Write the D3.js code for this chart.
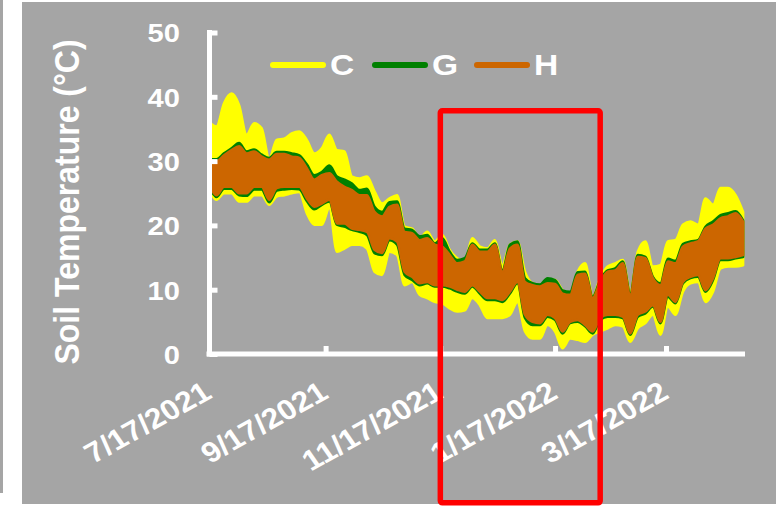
<!DOCTYPE html>
<html>
<head>
<meta charset="utf-8">
<script src="https://cdn.jsdelivr.net/npm/d3@7"></script>
<style>
  html, body { margin: 0; padding: 0; background: #ffffff; }
  svg { display: block; }
  text { font-family: "Liberation Sans", Arial, sans-serif; font-weight: bold; fill: #ffffff; }
</style>
</head>
<body>
<svg id="chart" width="776" height="510"></svg>
<script>
// Sampling dates (every 4 days)
const dates = [
  "2021-07-17","2021-07-21","2021-07-25","2021-07-29","2021-08-02","2021-08-06","2021-08-10","2021-08-14",
  "2021-08-18","2021-08-22","2021-08-26","2021-08-30","2021-09-03","2021-09-07","2021-09-11","2021-09-15",
  "2021-09-19","2021-09-23","2021-09-27","2021-10-01","2021-10-05","2021-10-09","2021-10-13","2021-10-17",
  "2021-10-21","2021-10-25","2021-10-29","2021-11-02","2021-11-06","2021-11-10","2021-11-14","2021-11-18",
  "2021-11-22","2021-11-26","2021-11-30","2021-12-04","2021-12-08","2021-12-12","2021-12-16","2021-12-20",
  "2021-12-24","2021-12-28","2022-01-01","2022-01-05","2022-01-09","2022-01-13","2022-01-17","2022-01-21",
  "2022-01-25","2022-01-29","2022-02-02","2022-02-06","2022-02-10","2022-02-14","2022-02-18","2022-02-22",
  "2022-02-26","2022-03-02","2022-03-06","2022-03-10","2022-03-14","2022-03-18","2022-03-22","2022-03-26",
  "2022-03-30","2022-04-03","2022-04-07","2022-04-11","2022-04-15","2022-04-19","2022-04-23","2022-04-27"
];

// Daily high / low soil temperature (°C) for each plot
const cHigh = [36.1,35.4,39.0,40.5,38.7,34.1,35.9,35.1,30.4,33.3,33.5,34.3,34.6,33.3,31.2,
  32.0,34.1,31.7,31.5,27.6,27.3,27.6,25.3,23.4,24.2,24.7,19.8,19.5,18.0,19.0,
  17.5,18.5,16.2,14.9,14.4,18.0,16.7,16.4,17.7,13.8,17.0,17.5,12.8,11.0,10.7,
  11.5,11.5,9.9,9.4,12.8,14.1,8.9,11.8,13.6,14.1,14.6,9.7,15.9,17.5,13.6,
  13.8,17.5,17.7,20.1,20.6,20.1,24.2,23.2,25.8,25.8,24.7,22.1];
const cLow = [25.8,24.0,25.0,25.0,23.7,23.7,24.7,24.7,23.2,24.5,24.7,25.0,25.2,21.9,20.1,
  20.1,22.7,15.9,16.4,17.0,17.0,16.4,12.8,12.3,15.9,15.4,10.7,11.2,9.2,8.7,
  8.1,7.9,7.1,6.6,6.8,8.7,7.6,5.6,5.6,5.6,6.1,8.1,3.5,2.4,2.4,
  4.5,3.5,0.9,2.4,2.2,1.9,3.0,3.5,4.0,4.5,4.3,1.9,4.0,4.8,6.1,
  3.0,7.4,6.1,9.7,11.0,11.2,8.1,9.7,13.3,13.6,13.6,13.8];

const gHigh = [30.3,30.3,31.2,32.0,32.8,31.5,31.8,31.0,30.5,31.4,31.4,31.2,30.9,29.5,27.8,
  28.3,29.3,27.6,27.1,26.5,25.5,25.7,22.9,22.1,23.6,23.7,19.5,19.3,18.3,18.5,
  17.2,18.0,15.9,14.6,14.9,17.2,16.2,16.2,17.2,13.0,17.0,17.5,11.8,11.0,10.8,
  11.8,11.5,9.9,9.7,12.7,12.8,8.9,11.5,13.0,13.3,14.4,9.4,15.4,15.1,12.0,
  11.0,14.8,14.5,17.1,17.5,17.7,19.8,20.6,21.6,21.9,22.2,20.8];
const gLow = [26.0,24.4,25.7,25.7,24.7,24.6,25.6,25.6,23.6,25.4,25.6,25.7,25.6,23.8,22.5,
  23.2,23.7,20.1,19.8,19.3,19.0,18.5,15.7,15.4,17.7,17.0,12.3,11.5,10.7,11.0,
  10.5,10.5,10.2,9.7,9.4,10.5,9.4,8.4,8.4,8.1,9.4,11.0,5.6,4.5,4.5,
  5.8,5.3,3.2,4.8,5.0,4.3,3.2,5.3,5.8,5.8,5.6,3.0,5.8,6.3,7.4,
  4.8,8.9,7.9,11.0,11.8,12.0,9.7,11.5,14.6,14.6,14.9,15.1];

const hHigh = [30.0,30.0,30.9,31.7,32.3,31.2,31.5,30.7,30.2,31.1,31.1,30.7,30.5,28.9,27.1,
  27.8,28.1,26.8,26.0,25.5,24.7,24.7,22.1,21.4,22.9,23.2,19.0,18.8,17.7,18.0,
  17.0,16.7,15.4,14.1,14.4,17.0,15.9,15.9,17.0,12.8,16.4,17.0,11.2,10.7,10.5,
  11.0,10.9,9.4,9.2,12.3,12.5,8.7,11.2,12.8,13.0,14.1,9.2,15.1,14.9,11.8,
  10.7,14.4,14.1,16.7,17.2,17.5,19.5,20.1,21.1,21.4,21.9,20.6];
const hLow = [26.3,24.7,26.0,26.0,25.0,25.0,26.0,26.0,24.0,25.8,26.0,26.0,26.0,24.2,22.9,
  23.4,24.0,20.3,20.3,19.5,19.3,19.0,16.2,15.7,18.0,17.5,12.8,12.0,11.0,11.2,
  10.7,10.7,10.5,10.0,9.7,10.7,9.7,8.7,8.7,8.4,9.7,11.2,6.1,5.0,4.8,
  6.1,5.6,3.5,5.0,5.3,4.5,3.5,5.6,6.1,6.1,5.8,3.2,6.1,6.6,7.6,
  5.0,9.2,8.1,11.2,12.0,12.3,9.9,11.8,14.9,14.9,15.1,15.4];

const seriesNames = ["C", "G", "H"];
const seriesColors = ["#ffff00", "#008000", "#cc6600"];
const yTicks = [0, 10, 20, 30, 40, 50];
const xTickLabels = ["7/17/2021", "9/17/2021", "11/17/2021", "1/17/2022", "3/17/2022"];
const xDomain = ["2021-07-17", "2022-04-28"];
const highlight = ["2021-11-17", "2022-02-10"];

const parse = d3.timeParse("%Y-%m-%d");
const parseTick = d3.timeParse("%m/%d/%Y");
const fmtTick = d3.timeFormat("%-m/%-d/%Y");
const stretch = 1.12;   // text is drawn slightly wide

const svg = d3.select("#chart");

// Panel background
svg.append("rect").attr("x", 22).attr("y", 2).attr("width", 754).attr("height", 502).attr("fill", "#a5a5a5");
svg.append("rect").attr("x", 0).attr("y", 0).attr("width", 3).attr("height", 493).attr("fill", "#a5a5a5");

const x = d3.scaleTime().domain(xDomain.map(parse)).range([209, 745]);
const y = d3.scaleLinear().domain([0, 50]).range([354, 32.5]);

const rows = dates.map((d, i) => ({
  date: parse(d),
  C: [cLow[i], cHigh[i]],
  G: [gLow[i], gHigh[i]],
  H: [hLow[i], hHigh[i]]
}));

// Temperature bands, one per plot
seriesNames.forEach((name, k) => {
  const area = d3.area()
    .x(d => x(d.date))
    .y0(d => y(d[name][0]))
    .y1(d => y(d[name][1]))
    .curve(d3.curveMonotoneX);
  svg.append("path")
    .datum(rows)
    .attr("d", area)
    .attr("fill", seriesColors[k])
    .attr("stroke", seriesColors[k])
    .attr("stroke-width", 2.5)
    .attr("stroke-linejoin", "round");
});

// Y axis
const yAxis = svg.append("g")
  .attr("transform", "translate(209.5,0)")
  .call(d3.axisLeft(y).tickValues(yTicks).tickSizeInner(-8).tickSizeOuter(0).tickPadding(0));
yAxis.select(".domain").attr("stroke", "#ffffff").attr("stroke-width", 5)
  .attr("d", `M0,${y(50) - 2.5}V${y(0) + 2.5}`);
yAxis.selectAll(".tick line").attr("stroke", "#ffffff").attr("stroke-width", 5);
yAxis.selectAll(".tick text")
  .attr("x", -29.5 / stretch)
  .attr("dy", "0.36em")
  .attr("transform", `scale(${stretch},1)`)
  .style("font-size", "26px")
  .style("font-family", "'Liberation Sans', Arial, sans-serif")
  .style("font-weight", "bold")
  .attr("fill", "#ffffff");

// X axis
const xAxis = svg.append("g")
  .attr("transform", `translate(0,${y(0)})`)
  .call(d3.axisBottom(x).tickValues(xTickLabels.map(parseTick)).tickFormat(fmtTick)
    .tickSizeInner(-8).tickSizeOuter(0).tickPadding(0));
xAxis.select(".domain").attr("stroke", "#ffffff").attr("stroke-width", 5)
  .attr("d", `M${x.range()[0] - 2.5},0H${x.range()[1]}`);
xAxis.selectAll(".tick line").attr("stroke", "#ffffff").attr("stroke-width", 5);
xAxis.selectAll(".tick text")
  .attr("x", 0).attr("y", 0).attr("dy", 0)
  .attr("text-anchor", "end")
  .attr("transform", `translate(4,43) scale(${stretch},1) rotate(-32)`)
  .style("font-size", "28.5px")
  .style("font-family", "'Liberation Sans', Arial, sans-serif")
  .style("font-weight", "bold")
  .attr("fill", "#ffffff");

// Axis title
svg.append("text")
  .attr("text-anchor", "middle")
  .attr("transform", `translate(79,202) scale(${stretch},1) rotate(-90)`)
  .style("font-size", "32px")
  .text("Soil Temperature (°C)");

// Legend
const legendX = [273, 375, 477];
seriesNames.forEach((name, k) => {
  svg.append("line")
    .attr("x1", legendX[k]).attr("x2", legendX[k] + 50)
    .attr("y1", 65).attr("y2", 65)
    .attr("stroke", seriesColors[k]).attr("stroke-width", 6).attr("stroke-linecap", "round");
  svg.append("text")
    .attr("transform", `translate(${legendX[k] + 57},75) scale(${stretch},1)`)
    .style("font-size", "30px")
    .text(name);
});

// Highlighted period
const hx0 = x(parse(highlight[0])), hx1 = x(parse(highlight[1]));
svg.append("rect")
  .attr("x", hx0).attr("y", 110.8)
  .attr("width", hx1 - hx0).attr("height", 392)
  .attr("rx", 2)
  .attr("fill", "none").attr("stroke", "#ff0000").attr("stroke-width", 5.5);
</script>
</body>
</html>
